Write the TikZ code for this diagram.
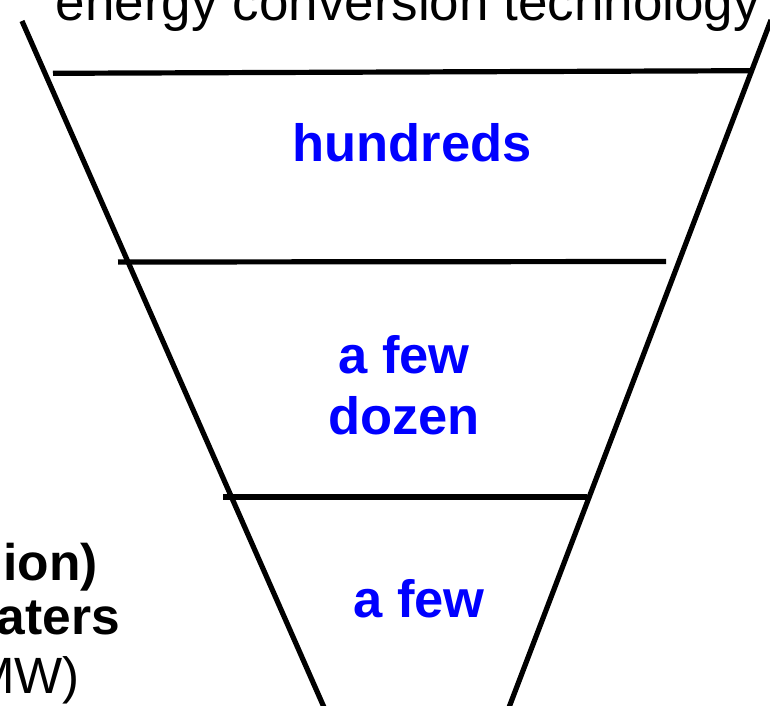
\documentclass[tikz,border=0pt]{standalone}
\usepackage{fontspec}
\setmainfont{Liberation Sans}
\begin{document}
\begin{tikzpicture}[x=1pt,y=-1pt,
  edge/.style={line width=5.2pt,line cap=butt},
  toptxt/.style={inner sep=0pt,anchor=base,font=\fontsize{53}{60}\selectfont},
  bluetxt/.style={inner sep=0pt,anchor=base,text={rgb,255:red,0;green,0;blue,255},font=\fontsize{52.5}{60}\selectfont\bfseries},
  lefttxt/.style={inner sep=0pt,anchor=base east,font=\fontsize{51}{58}\selectfont}]
\useasboundingbox (0,0) rectangle (770,705);
\clip (0,0) rectangle (770,705);
% funnel sides
\coordinate (l1) at (22,21);
\coordinate (l2) at (325.2,710);
\coordinate (r1) at (771,20);
\coordinate (r2) at (508,710);
\draw[edge] (l1) -- (l2);
\draw[edge] (r1) -- (r2);
% horizontal bars
\coordinate (h1a) at (53,73.3);
\coordinate (h1b) at (750,70.7);
\coordinate (h2a) at (118,262);
\coordinate (h2b) at (666,261.5);
\coordinate (h3a) at (223,497);
\coordinate (h3b) at (587,497);
\draw[edge] (h1a) -- (h1b);
\draw[edge] (h2a) -- (h2b);
\draw[edge] (h3a) -- (h3b);
% texts
\node[toptxt] (title) at (408,20) {energy conversion technology};
\node[bluetxt] (hund) at (412,161) {hundreds};
\node[bluetxt] (afew1) at (404,373) {a few};
\node[bluetxt] (dozen) at (404,434) {dozen};
\node[bluetxt] (afew2) at (419,617) {a few};
\node[lefttxt,font=\fontsize{51.5}{58}\selectfont\bfseries] (ion) at (98,580) {ion)};
\node[lefttxt,font=\fontsize{51.5}{58}\selectfont\bfseries] (aters) at (120,634) {aters};
\node[lefttxt] (mw) at (80,693) {MW)};
\end{tikzpicture}
\end{document}
